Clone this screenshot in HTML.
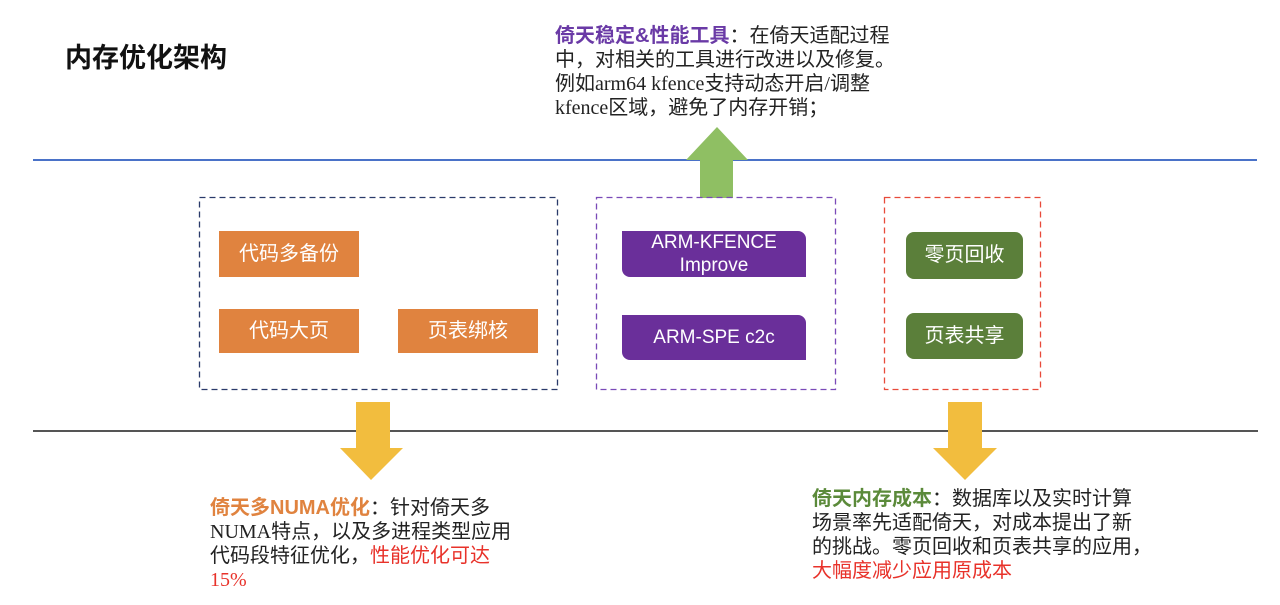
<!DOCTYPE html>
<html><head><meta charset="utf-8"><style>
*{margin:0;padding:0;box-sizing:border-box}
body{width:1280px;height:605px;background:#fff;position:relative;overflow:hidden;font-family:"Liberation Sans","Noto Sans CJK SC",sans-serif}
.a{position:absolute}
.t{font-size:20px;line-height:24px;color:#222;font-family:"Liberation Serif","Noto Sans CJK SC",sans-serif;white-space:nowrap}
.b{font-family:"Liberation Sans","Noto Sans CJK SC",sans-serif;font-weight:bold}
.box{color:#fff;font-size:20px;display:flex;align-items:center;justify-content:center;text-align:center;line-height:23px}
.or{background:#e0833f}
.pu{background:#6a2f9a;border-radius:0 8px 0 8px}
.gr{background:#5b7f3a;border-radius:8px}
</style></head><body>
<div class="a b" style="left:65px;top:36px;font-size:27px;color:#111">内存优化架构</div>
<div class="a t" style="left:555px;top:24px"><span class="b" style="color:#6a3aa6">倚天稳定&amp;性能工具</span>：在倚天适配过程<br>中，对相关的工具进行改进以及修复。<br>例如arm64 kfence支持动态开启/调整<br>kfence区域，避免了内存开销；</div>
<div class="a" style="left:33px;top:159px;width:1224px;height:1.5px;background:#4a72c8"></div>
<div class="a" style="left:33px;top:430px;width:1225px;height:1.5px;background:#555"></div>
<svg class="a" style="left:0;top:0" width="1280" height="605">
<polygon points="717,127 748,160 733,160 733,198 700,198 700,160 686,160" fill="#8fbf63"/>
<polygon points="356,402 390,402 390,448 403,448 371,480 340,448 356,448" fill="#f2bd3e"/>
<polygon points="948,402 982,402 982,448 997,448 965,480 933,448 948,448" fill="#f2bd3e"/>
<rect x="199.5" y="197.5" width="358" height="192" fill="none" stroke="#2a3a6a" stroke-width="1.3" stroke-dasharray="6,4"/>
<rect x="596.5" y="197.5" width="239" height="192" fill="none" stroke="#7a4ab8" stroke-width="1.3" stroke-dasharray="6,4"/>
<rect x="884.5" y="197.5" width="156" height="192" fill="none" stroke="#e84a3a" stroke-width="1.3" stroke-dasharray="6,4"/>
</svg>
<div class="a box or" style="left:219px;top:231px;width:140px;height:46px">代码多备份</div>
<div class="a box or" style="left:219px;top:309px;width:140px;height:44px">代码大页</div>
<div class="a box or" style="left:398px;top:309px;width:140px;height:44px">页表绑核</div>
<div class="a box pu" style="left:622px;top:231px;width:184px;height:46px;font-size:19px">ARM-KFENCE<br>Improve</div>
<div class="a box pu" style="left:622px;top:315px;width:184px;height:45px;font-size:19px">ARM-SPE c2c</div>
<div class="a box gr" style="left:906px;top:232px;width:117px;height:47px">零页回收</div>
<div class="a box gr" style="left:906px;top:313px;width:117px;height:46px">页表共享</div>
<div class="a t" style="left:210px;top:496px"><span class="b" style="color:#e0833f">倚天多NUMA优化</span>：针对倚天多<br>NUMA特点，以及多进程类型应用<br>代码段特征优化，<span style="color:#e8322a">性能优化可达</span><br><span style="color:#e8322a">15%</span></div>
<div class="a t" style="left:812px;top:487px"><span class="b" style="color:#5b8a3a">倚天内存成本</span>：数据库以及实时计算<br>场景率先适配倚天，对成本提出了新<br>的挑战。零页回收和页表共享的应用，<br><span style="color:#e8322a">大幅度减少应用原成本</span></div>
</body></html>
